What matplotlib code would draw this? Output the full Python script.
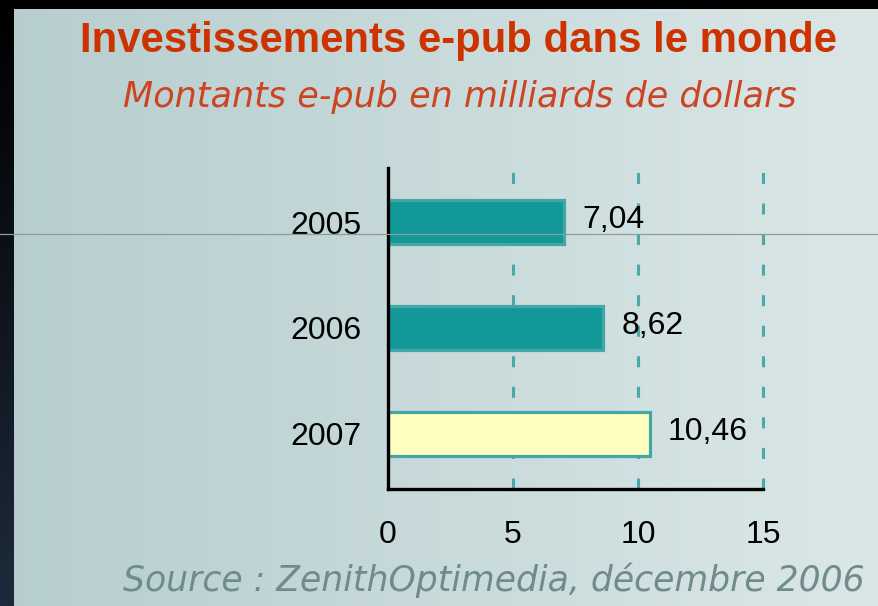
# Investissements e-pub dans le monde - horizontal bar chart
import numpy as np
import matplotlib.pyplot as plt
from matplotlib.patches import Rectangle
from matplotlib.lines import Line2D

plt.rcParams['font.family'] = ['Liberation Sans', 'DejaVu Sans']

# Data
years = ['2005', '2006', '2007']
values = [7.04, 8.62, 10.46]
bar_colors = ['#129898', '#129898', '#ffffc0']
x_ticks = [0, 5, 10, 15]

W, H = 879, 606
fig = plt.figure(figsize=(W / 100, H / 100), dpi=100)

# Background gradient (left darker, right lighter)
bg = fig.add_axes([0, 0, 1, 1], zorder=-10)
grad = np.linspace(0, 1, 256).reshape(1, -1)
c0 = np.array([0xb6, 0xcd, 0xce]) / 255
c1 = np.array([0xdb, 0xe7, 0xe7]) / 255
img = c0[None, None, :] * (1 - grad[..., None]) + c1[None, None, :] * grad[..., None]
bg.imshow(img, aspect='auto', extent=[0, 1, 0, 1])

# Black frame on top and left, dark navy fade at bottom left
bg.add_patch(Rectangle((0, 1 - 9 / H), 1, 9 / H, color='black', lw=0))
strip = np.linspace(0, 1, 256).reshape(-1, 1)
n0 = np.array([0, 0, 0]) / 255
n1 = np.array([0x1e, 0x2a, 0x3c]) / 255
simg = n0[None, None, :] * (1 - strip[..., None]) + n1[None, None, :] * strip[..., None]
bg.imshow(simg, aspect='auto', extent=[0, 14 / W, 0, 1 - 9 / H], zorder=2)
bg.set_xlim(0, 1)
bg.set_ylim(0, 1)
bg.axis('off')

# Thin grey line across the picture
fig.add_artist(Line2D([0, 1], [1 - 234 / H, 1 - 234 / H], color='#8c9c9c', lw=0.9))

# Main axes
ax = fig.add_axes([388 / W, 1 - 489 / H, (763 - 388) / W, (489 - 168) / H])
ax.set_facecolor('none')
y = np.arange(len(years))
ax.barh(y, values, height=0.415, color=bar_colors, edgecolor='#45a6a6',
        linewidth=2.3, zorder=3)

for yi, v in zip(y, values):
    ax.text(v + 0.72, yi - 0.02, f'{v:.2f}'.replace('.', ','), fontsize=23,
            color='black', va='center', ha='left', zorder=4)

ax.set_xlim(0, 15)
ax.set_ylim(2.52, -0.51)
ax.set_yticks(y)
ax.set_yticklabels(years, fontsize=23)
ax.set_xticks(x_ticks)
ax.set_xticklabels([str(t) for t in x_ticks], fontsize=23)
ax.tick_params(length=0)
ax.tick_params(axis='y', pad=19)
ax.tick_params(axis='x', pad=22)

for xv in x_ticks[1:]:
    ax.axvline(xv, color='#4aa8a8', lw=2.2, dashes=(3.6, 6.4), zorder=1,
               clip_on=False)

for s in ['top', 'right']:
    ax.spines[s].set_visible(False)
for s in ['left', 'bottom']:
    ax.spines[s].set_linewidth(2.4)
    ax.spines[s].set_color('black')
    ax.spines[s].set_zorder(5)

# Titles
fig.text(458 / W, 1 - 52 / H, 'Investissements e-pub dans le monde',
         fontsize=30.2, fontweight='bold', color='#cc3300', ha='center', va='baseline')
fig.text(460 / W, 1 - 107 / H, 'Montants e-pub en milliards de dollars',
         fontsize=25.2, fontstyle='italic', color='#cc4422', ha='center', va='baseline',
         family='DejaVu Sans')

# Source
fig.text(123 / W, 1 - 591 / H, 'Source : ZenithOptimedia, décembre 2006',
         fontsize=24.9, fontstyle='italic', color='#6f8b8c', ha='left', va='baseline',
         family='DejaVu Sans')

fig.savefig('out.png', dpi=100)
